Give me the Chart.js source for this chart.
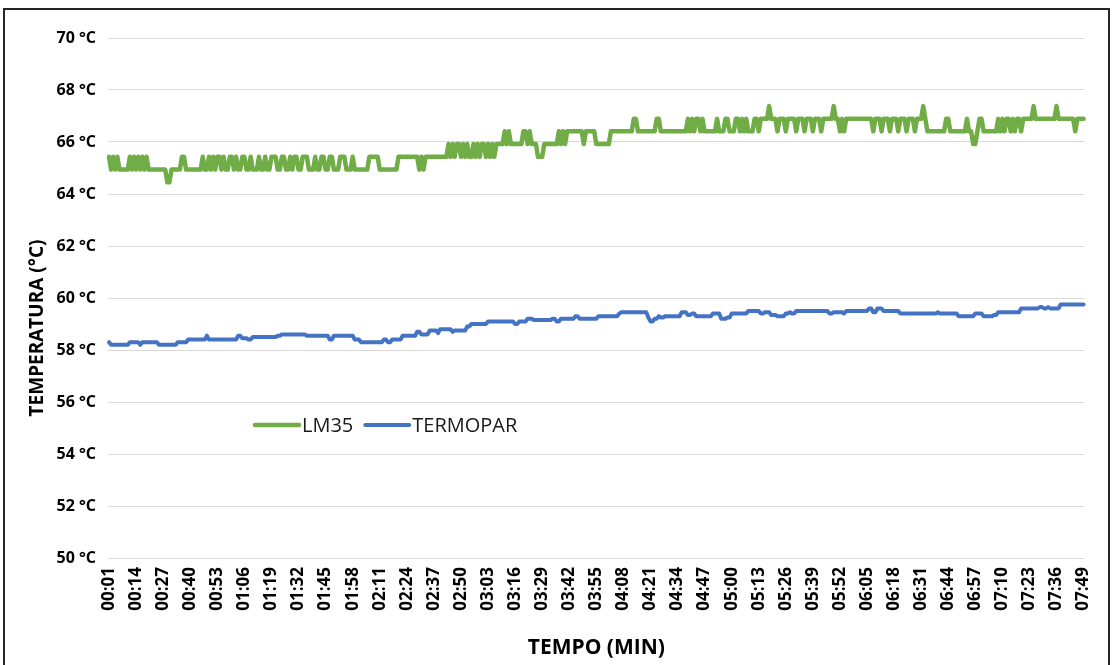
<!DOCTYPE html>
<html>
<head>
<meta charset="utf-8">
<script src="https://cdn.jsdelivr.net/npm/chart.js@4.4.1/dist/chart.umd.min.js"></script>
<style>
  html, body { margin: 0; padding: 0; background: #fff; overflow: hidden; }
  #frame { position: absolute; left: 3px; top: 8px; width: 1107px; height: 720px; border: 2px solid #262626; box-sizing: border-box; }
  #chart { position: absolute; left: 0; top: 0; }
</style>
</head>
<body>
<div id="frame"></div>
<canvas id="chart" width="1113" height="665"></canvas>
<script>
// one reading per second, 00:01 .. 07:49
const SAMPLE_COUNT = 469;
const TICK_EVERY = 13;

// LM35 readings as [temperature, number of consecutive seconds]
const lm35Runs = [
  [65.43,1],[64.94,1],[65.43,1],[64.94,1],[65.43,1],[64.94,5],
  [65.43,1],[64.94,1],[65.43,1],[64.94,1],[65.43,1],[64.94,1],[65.43,1],
  [64.94,1],[65.43,1],[64.94,9],
  [64.45,2],[64.94,5],[65.43,2],[64.94,8],[65.43,1],[64.94,2],
  [65.43,1],[64.94,1],[65.43,1],[64.94,1],[65.43,2],[64.94,1],[65.43,1],[64.94,2],[65.43,2],[64.94,1],[65.43,1],[64.94,2],
  [65.43,2],[64.94,2],[65.43,1],[64.94,3],
  [65.43,1],[64.94,2],[65.43,1],[64.94,2],[65.43,3],[64.94,2],
  [65.43,2],[64.94,2],[65.43,1],[64.94,1],[65.43,2],[64.94,2],
  [65.43,3],[64.94,3],[65.43,1],[64.94,2],[65.43,2],[64.94,2],
  [65.43,2],[64.94,3],[65.43,3],[64.94,3],
  [65.43,1],[64.94,7],[65.43,5],[64.94,9],[65.43,10],[64.94,1],[65.43,1],[64.94,1],[65.43,11],
  [65.92,1],[65.43,1],[65.92,1],[65.43,1],[65.92,2],[65.43,1],[65.92,1],[65.43,1],[65.92,1],[65.43,2],
  [65.92,1],[65.43,1],[65.92,1],[65.43,1],[65.92,2],[65.43,1],[65.92,1],[65.43,1],[65.92,1],[65.43,1],[65.92,4],
  [66.41,1],[65.92,1],[66.41,1],[65.92,6],
  [66.41,2],[65.92,1],[66.41,1],[65.92,3],
  [65.43,3],[65.92,7],
  [66.41,1],[65.92,1],[66.41,1],[65.92,1],[66.41,8],
  [65.92,1],[66.41,5],[65.92,7],[66.41,11],[66.89,2],[66.41,9],[66.89,2],[66.41,13],
  [66.89,1],[66.41,1],[66.89,1],[66.41,1],[66.89,2],[66.41,1],[66.89,1],[66.41,6],
  [66.89,1],[66.41,3],[66.89,2],[66.41,3],[66.89,2],[66.41,1],
  [66.89,1],[66.41,1],[66.89,1],[66.41,3],
  [66.89,2],[66.41,1],[66.89,4],[67.38,1],
  [66.89,3],[66.41,1],[66.89,3],[66.41,1],[66.89,4],[66.41,1],[66.89,3],[66.41,1],[66.89,3],[66.41,1],[66.89,3],[66.41,1],[66.89,5],
  [67.38,1],
  [66.89,2],[66.41,1],[66.89,1],[66.41,1],[66.89,13],
  [66.41,1],[66.89,3],[66.41,1],[66.89,3],[66.41,1],[66.89,3],[66.41,1],[66.89,3],[66.41,1],[66.89,3],[66.41,1],[66.89,3],
  [67.38,1],[66.89,1],
  [66.41,9],[66.89,2],[66.41,8],[66.89,1],[66.41,2],[65.92,2],[66.41,1],[66.89,2],[66.41,7],
  [66.89,1],[66.41,1],[66.89,1],[66.41,1],[66.89,2],[66.41,1],[66.89,1],[66.41,1],[66.89,2],[66.41,1],
  [66.89,5],[67.38,1],[66.89,10],[67.38,1],[66.89,8],[66.41,1],[66.89,4]
];

// thermocouple readings as [temperature, number of consecutive seconds]
const termoparRuns = [
  [58.3,1],[58.2,9],[58.3,5],[58.2,1],[58.3,8],[58.2,9],[58.3,5],[58.4,9],[58.55,1],[58.4,14],
  [58.55,2],[58.45,3],[58.4,2],[58.5,12],[58.55,2],[58.6,12],[58.55,11],[58.4,2],[58.55,10],[58.4,3],
  [58.3,11],[58.4,2],[58.3,2],[58.4,5],[58.55,7],[58.7,2],[58.6,4],[58.75,4],[58.65,1],[58.8,6],
  [58.7,1],[58.75,6],[58.9,2],[59.0,8],[59.1,13],[59.0,2],[59.1,4],[59.2,3],[59.15,9],[59.2,2],
  [59.1,2],[59.2,7],[59.3,2],[59.2,9],[59.3,10],[59.4,1],[59.45,13],[59.25,1],[59.1,2],[59.2,2],
  [59.3,1],[59.25,2],[59.3,8],[59.45,3],[59.35,2],[59.4,2],[59.3,8],[59.4,4],[59.2,3],[59.25,2],
  [59.4,8],[59.5,6],[59.4,2],[59.45,3],[59.35,3],[59.3,4],[59.4,2],[59.45,1],[59.4,2],[59.5,16],
  [59.4,2],[59.45,5],[59.4,1],[59.5,11],[59.6,2],[59.45,2],[59.6,3],[59.5,8],[59.4,18],[59.45,1],
  [59.4,9],[59.3,8],[59.4,4],[59.3,5],[59.35,2],[59.45,11],[59.6,9],[59.65,2],[59.6,2],[59.65,1],
  [59.6,5],[59.75,12]
];

const Y_MIN = 50, Y_MAX = 70, Y_STEP = 2;

const LM35_COLOR = '#70ad47';
const TERMOPAR_COLOR = '#4472c4';
const FONT = '"Open Sans", "Liberation Sans", sans-serif';

function expandRuns(runs) {
  const out = [];
  runs.forEach(([value, count]) => {
    for (let i = 0; i < count; i++) out.push(value);
  });
  return out;
}

const pad2 = n => String(n).padStart(2, '0');
const timeLabels = [];
for (let s = 1; s <= SAMPLE_COUNT; s++) {
  timeLabels.push(pad2(Math.floor(s / 60)) + ':' + pad2(s % 60));
}

// legend sits inside the plot, left of centre
const plotLegend = {
  id: 'plotLegend',
  afterDraw(chart) {
    const { ctx } = chart;
    const y = 425;
    let x = 255;
    ctx.save();
    ctx.font = '20px ' + FONT;
    ctx.textBaseline = 'middle';
    chart.data.datasets.forEach(ds => {
      ctx.strokeStyle = ds.borderColor;
      ctx.lineWidth = ds.borderWidth;
      ctx.lineCap = 'round';
      ctx.beginPath();
      ctx.moveTo(x, y);
      ctx.lineTo(x + 44, y);
      ctx.stroke();
      ctx.fillStyle = '#1a1a1a';
      ctx.fillText(ds.label, x + 47, y + 1);
      x += 47 + ctx.measureText(ds.label).width + 12;
    });
    ctx.restore();
  }
};

// vertical axis title, centred a bit lower than the plot
const yAxisTitle = {
  id: 'yAxisTitle',
  afterDraw(chart) {
    const { ctx } = chart;
    ctx.save();
    ctx.translate(38, 328);
    ctx.rotate(-Math.PI / 2);
    ctx.font = 'bold 19px ' + FONT;
    ctx.fillStyle = '#000';
    ctx.textAlign = 'center';
    ctx.textBaseline = 'middle';
    ctx.fillText('TEMPERATURA (°C)', 0, 0);
    ctx.restore();
  }
};

new Chart(document.getElementById('chart'), {
  type: 'line',
  data: {
    labels: timeLabels,
    datasets: [
      {
        label: 'LM35',
        data: expandRuns(lm35Runs),
        borderColor: LM35_COLOR,
        borderWidth: 4.5,
        pointRadius: 0
      },
      {
        label: 'TERMOPAR',
        data: expandRuns(termoparRuns),
        borderColor: TERMOPAR_COLOR,
        borderWidth: 4,
        pointRadius: 0
      }
    ]
  },
  options: {
    responsive: false,
    animation: false,
    devicePixelRatio: 1,
    layout: { padding: { top: 38, right: 21, bottom: 0, left: 0 } },
    elements: {
      line: { tension: 0, borderJoinStyle: 'round', borderCapStyle: 'round' }
    },
    plugins: {
      legend: { display: false },
      tooltip: { enabled: false }
    },
    scales: {
      x: {
        type: 'category',
        offset: true,
        grid: { display: false, drawTicks: false },
        border: { display: false },
        ticks: {
          autoSkip: false,
          minRotation: 90,
          maxRotation: 90,
          padding: 9,
          color: '#000',
          font: { family: FONT, size: 17, weight: 'bold' },
          callback: (value, index) => index % TICK_EVERY === 0 ? timeLabels[index] : ''
        },
        title: {
          display: true,
          text: 'TEMPO (MIN)',
          color: '#000',
          font: { family: FONT, size: 21, weight: 'bold' },
          padding: { top: 0, bottom: 4 }
        },
        afterFit: scale => { scale.height = 107; }
      },
      y: {
        min: Y_MIN,
        max: Y_MAX,
        grid: { color: '#d9d9d9', drawTicks: false },
        border: { display: false },
        ticks: {
          stepSize: Y_STEP,
          padding: 12,
          color: '#000',
          font: { family: FONT, size: 16, weight: 'bold' },
          callback: v => v + ' °C'
        },
        afterFit: scale => { scale.width = 108; }
      }
    }
  },
  plugins: [plotLegend, yAxisTitle]
});
</script>
</body>
</html>
